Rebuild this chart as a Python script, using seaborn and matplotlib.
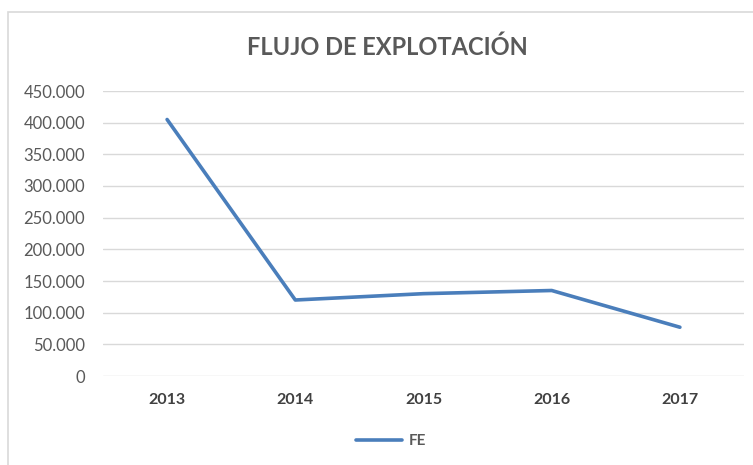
import matplotlib
matplotlib.use("Agg")
import matplotlib.pyplot as plt
import seaborn as sns
import pandas as pd
from matplotlib.patches import Rectangle
from matplotlib.ticker import FuncFormatter

years = ["2013", "2014", "2015", "2016", "2017"]
fe_values = [405000, 120000, 130000, 135000, 77000]
series_name = "FE"
title = "FLUJO DE EXPLOTACIÓN"

df = pd.DataFrame({"year": years, "value": fe_values, "serie": series_name})

sns.set_theme(style="white")
plt.rcParams["font.family"] = ["Lato", "DejaVu Sans"]

fig = plt.figure(figsize=(7.53, 4.65), dpi=100)
fig.patch.set_facecolor("white")
# chart border
fig.patches.append(Rectangle((8 / 753, -0.1), 2.0, (465 - 12) / 465 + 0.1,
                             transform=fig.transFigure, fill=False,
                             edgecolor="#d9d9d9", linewidth=1.2))

ax = fig.add_axes([103 / 753, (465 - 376) / 465, 641 / 753, 285 / 465])
line_color = "#4A7EBB"
sns.lineplot(data=df, x="year", y="value", hue="serie", palette=[line_color],
             linewidth=2.6, ax=ax, sort=False)

ax.set_xlim(-0.5, 4.5)
ax.set_ylim(0, 450000)
ax.set_yticks(range(0, 450001, 50000))
ax.yaxis.set_major_formatter(FuncFormatter(lambda v, p: f"{int(v):,}".replace(",", ".")))
ax.grid(axis="y", color="#d9d9d9", linewidth=1)
ax.set_axisbelow(True)
for s in ax.spines.values():
    s.set_visible(False)
ax.set_xlabel("")
ax.set_ylabel("")
ax.tick_params(axis="y", labelsize=12, labelcolor="#595959", length=0, pad=13)
ax.tick_params(axis="x", labelsize=11.5, labelcolor="#404040", length=0, pad=12)
for lbl in ax.get_xticklabels():
    lbl.set_fontweight("bold")

fig.text(387 / 753, 1 - 47 / 465, title, ha="center", va="center",
         fontsize=17, fontweight="bold", color="#595959")

leg = ax.legend(loc="center", bbox_to_anchor=(391 / 753, 1 - 441 / 465),
                bbox_transform=fig.transFigure, frameon=False, fontsize=11,
                handlelength=3.0, handletextpad=0.4)
for t in leg.get_texts():
    t.set_color("#595959")
    t.set_fontweight("bold")

fig.savefig("out.png", dpi=100)
